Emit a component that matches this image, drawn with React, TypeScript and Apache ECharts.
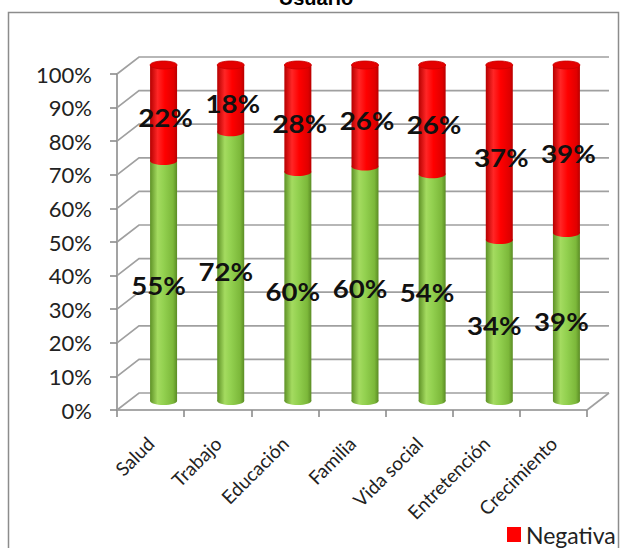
import React, { useEffect, useRef } from "react";
import * as echarts from "echarts";

// Survey results per area: positive vs negative answers (percent of respondents)
const CATEGORIES = ["Salud", "Trabajo", "Educación", "Familia", "Vida social", "Entretención", "Crecimiento"];
const POSITIVA = [55, 72, 60, 60, 54, 34, 39];
const NEGATIVA = [22, 18, 28, 26, 26, 37, 39];
const Y_TICKS = [0, 10, 20, 30, 40, 50, 60, 70, 80, 90, 100];

const FONT = "Lato, 'Open Sans', sans-serif";

// 3D look: depth of the back wall and position of the cylinders inside it (px)
const DEPTH_X = 22;
const DEPTH_Y = -17;
const CYL_X = 13;
const CYL_Y = -9;
const CYL_W = 27;
const CYL_RY = 4;

const GREEN_FILL = {
  type: "linear", x: 0, y: 0, x2: 1, y2: 0,
  colorStops: [
    { offset: 0, color: "#5e9126" },
    { offset: 0.28, color: "#a4db60" },
    { offset: 0.5, color: "#93d150" },
    { offset: 0.85, color: "#7cb83a" },
    { offset: 1, color: "#5b8c25" },
  ],
};
const RED_FILL = {
  type: "linear", x: 0, y: 0, x2: 1, y2: 0,
  colorStops: [
    { offset: 0, color: "#b60000" },
    { offset: 0.28, color: "#ff2626" },
    { offset: 0.55, color: "#ff0000" },
    { offset: 0.88, color: "#e00000" },
    { offset: 1, color: "#b80000" },
  ],
};

export default function App() {
  const ref = useRef<HTMLDivElement>(null);

  useEffect(() => {
    if (!ref.current) return;
    const chart = echarts.init(ref.current, null, { renderer: "svg" });

    const shares = POSITIVA.map((p, i) => (p / (p + NEGATIVA[i])) * 100);
    const posData = CATEGORIES.map((_, i) => [i, 0, shares[i], POSITIVA[i]]);
    const negData = CATEGORIES.map((_, i) => [i, shares[i], 100, NEGATIVA[i]]);
    const labelData = [
      ...CATEGORIES.map((_, i) => [i, 0, shares[i], POSITIVA[i], 0]),
      ...CATEGORIES.map((_, i) => [i, shares[i], 100, NEGATIVA[i], 1]),
    ];

    // back wall, grid lines running into depth, and floor edge
    const renderFrame = (params: any, api: any) => {
      const v = api.value(1);
      const p = api.coord([0, v]);
      const bw = api.size([1, 0])[0];
      const xL = p[0] - bw / 2;
      const xR = xL + bw * CATEGORIES.length;
      const y = p[1];
      const style = { stroke: "#a0a0a0", lineWidth: 1.7, fill: null };
      const children: any[] = [
        {
          type: "polyline",
          shape: { points: [[xL, y], [xL + DEPTH_X, y + DEPTH_Y], [xR + DEPTH_X, y + DEPTH_Y]] },
          style,
        },
      ];
      if (v === 0) {
        children.push({
          type: "line",
          shape: { x1: xR, y1: y, x2: xR + DEPTH_X, y2: y + DEPTH_Y },
          style,
        });
      }
      return { type: "group", children };
    };

    const renderCylinder = (fill: any, withTop: boolean) => (params: any, api: any) => {
      const i = api.value(0);
      const lo = api.coord([i, api.value(1)]);
      const hi = api.coord([i, api.value(2)]);
      const cx = lo[0] + CYL_X;
      const yLo = lo[1] + CYL_Y;
      const yHi = hi[1] + CYL_Y;
      const rx = CYL_W / 2;
      const children: any[] = [
        { type: "rect", shape: { x: cx - rx, y: yHi, width: CYL_W, height: yLo - yHi }, style: { fill } },
        { type: "ellipse", shape: { cx, cy: yLo, rx, ry: CYL_RY }, style: { fill } },
      ];
      if (withTop) {
        children.push({
          type: "ellipse",
          shape: { cx, cy: yHi, rx, ry: CYL_RY },
          style: { fill: "#e40000", stroke: "#c80000", lineWidth: 0.8 },
        });
      }
      return { type: "group", children };
    };

    const renderLabel = (params: any, api: any) => {
      const i = api.value(0);
      const lo = api.coord([i, api.value(1)]);
      const hi = api.coord([i, api.value(2)]);
      const kind = api.value(4);
      const cx = lo[0] + CYL_X + (kind === 1 ? 2 : -5);
      const cy = (lo[1] + hi[1]) / 2 + CYL_Y + 5;
      return {
        type: "text",
        x: cx,
        y: cy,
        scaleX: 1.15,
        style: {
          text: `${api.value(3)}%`,
          align: "center",
          verticalAlign: "middle",
          fontSize: 24,
          fontWeight: "bold",
          fontFamily: FONT,
          fill: "#111",
        },
      };
    };

    chart.setOption({
      animation: false,
      backgroundColor: "#fff",
      graphic: [
        {
          type: "rect",
          shape: { x: 8.5, y: 12.5, width: 610, height: 600 },
          style: { fill: "none", stroke: "#8c8c8c", lineWidth: 1.5 },
          z: 0,
        },
        {
          type: "text",
          x: 316,
          y: 8,
          style: {
            text: "Usuario",
            align: "center",
            verticalAlign: "bottom",
            fontSize: 20,
            fontWeight: "bold",
            fontFamily: "'Liberation Sans', Arial, sans-serif",
            fill: "#000",
          },
        },
      ],
      legend: {
        data: ["Negativa"],
        left: 502,
        top: 518,
        icon: "rect",
        itemWidth: 14,
        itemHeight: 15,
        itemGap: 6,
        textStyle: { fontSize: 23, fontFamily: FONT, color: "#222" },
      },
      grid: { left: 117, top: 74, width: 470, height: 336 },
      xAxis: {
        type: "category",
        data: CATEGORIES,
        axisLine: { lineStyle: { color: "#8c8c8c", width: 1.6 } },
        axisTick: { show: true, length: 7, interval: 0, alignWithLabel: false, lineStyle: { color: "#8c8c8c", width: 1.6 } },
        axisLabel: {
          interval: 0,
          rotate: 45,
          margin: 30,
          fontSize: 19,
          fontFamily: FONT,
          color: "#222",
        },
        splitLine: { show: false },
      },
      yAxis: {
        type: "value",
        min: 0,
        max: 100,
        interval: 10,
        axisLine: { show: true, lineStyle: { color: "#8c8c8c", width: 1.6 } },
        axisTick: { show: true, length: 7, lineStyle: { color: "#8c8c8c", width: 1.6 } },
        axisLabel: {
          formatter: "{value}%",
          margin: 25,
          fontSize: 22,
          fontFamily: FONT,
          color: "#222",
        },
        splitLine: { show: false },
      },
      series: [
        {
          name: "frame",
          type: "custom",
          clip: false,
          z: 1,
          silent: true,
          data: Y_TICKS.map((v) => [0, v]),
          encode: { x: 0, y: 1 },
          renderItem: renderFrame,
        },
        {
          name: "Positiva",
          type: "custom",
          clip: false,
          z: 2,
          itemStyle: { color: "#92d050" },
          data: posData,
          encode: { x: 0, y: [1, 2] },
          renderItem: renderCylinder(GREEN_FILL, false),
        },
        {
          name: "Negativa",
          type: "custom",
          clip: false,
          z: 3,
          itemStyle: { color: "#ff0000" },
          data: negData,
          encode: { x: 0, y: [1, 2] },
          renderItem: renderCylinder(RED_FILL, true),
        },
        {
          name: "labels",
          type: "custom",
          clip: false,
          z: 4,
          silent: true,
          data: labelData,
          encode: { x: 0, y: [1, 2] },
          renderItem: renderLabel,
        },
      ],
    });

    return () => chart.dispose();
  }, []);

  return (
    <div
      ref={ref}
      style={{ position: "absolute", left: 0, top: 0, width: 622, height: 548 }}
    />
  );
}
